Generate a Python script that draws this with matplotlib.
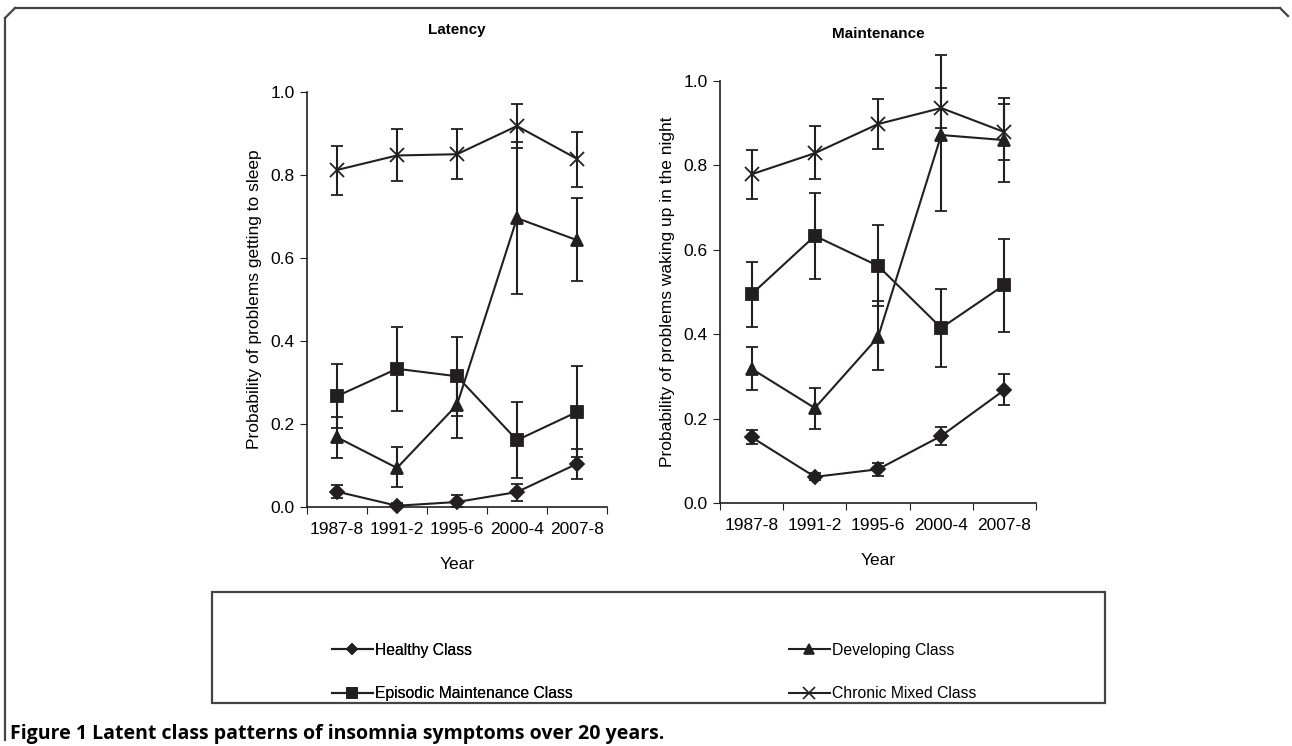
import numpy as np
import matplotlib.pyplot as plt
from matplotlib.lines import Line2D
from matplotlib.patches import Rectangle

plt.rcParams['font.family'] = ['Liberation Sans', 'DejaVu Sans']

years = ['1987-8', '1991-2', '1995-6', '2000-4', '2007-8']
classes = ['Healthy Class', 'Developing Class', 'Episodic Maintenance Class', 'Chronic Mixed Class']
markers = {'Healthy Class': 'D', 'Developing Class': '^',
           'Episodic Maintenance Class': 's', 'Chronic Mixed Class': 'x'}
msizes = {'Healthy Class': 7, 'Developing Class': 9,
          'Episodic Maintenance Class': 9, 'Chronic Mixed Class': 10}

# Latency: problems getting to sleep (mean, lower, upper)
lat_healthy = [0.037, 0.003, 0.012, 0.036, 0.104]
lat_healthy_lo = [0.022, 0.000, 0.000, 0.015, 0.067]
lat_healthy_hi = [0.053, 0.010, 0.029, 0.055, 0.140]
lat_dev = [0.168, 0.094, 0.246, 0.696, 0.643]
lat_dev_lo = [0.118, 0.048, 0.167, 0.513, 0.545]
lat_dev_hi = [0.218, 0.145, 0.325, 0.880, 0.745]
lat_epi = [0.267, 0.333, 0.315, 0.161, 0.229]
lat_epi_lo = [0.190, 0.231, 0.220, 0.070, 0.120]
lat_epi_hi = [0.345, 0.434, 0.410, 0.253, 0.340]
lat_chr = [0.812, 0.847, 0.850, 0.918, 0.839]
lat_chr_lo = [0.752, 0.785, 0.790, 0.866, 0.771]
lat_chr_hi = [0.870, 0.910, 0.910, 0.971, 0.904]

# Maintenance: problems waking up in the night
mai_healthy = [0.156, 0.062, 0.080, 0.159, 0.268]
mai_healthy_lo = [0.140, 0.055, 0.064, 0.137, 0.232]
mai_healthy_hi = [0.173, 0.070, 0.095, 0.180, 0.305]
mai_dev = [0.318, 0.225, 0.393, 0.872, 0.860]
mai_dev_lo = [0.268, 0.175, 0.315, 0.692, 0.761]
mai_dev_hi = [0.370, 0.273, 0.478, 1.061, 0.960]
mai_epi = [0.495, 0.633, 0.562, 0.415, 0.517]
mai_epi_lo = [0.417, 0.531, 0.466, 0.322, 0.405]
mai_epi_hi = [0.571, 0.735, 0.659, 0.507, 0.626]
mai_chr = [0.779, 0.829, 0.898, 0.936, 0.879]
mai_chr_lo = [0.720, 0.768, 0.839, 0.889, 0.813]
mai_chr_hi = [0.836, 0.893, 0.957, 0.983, 0.945]

latency = {
    'Healthy Class': (lat_healthy, lat_healthy_lo, lat_healthy_hi),
    'Developing Class': (lat_dev, lat_dev_lo, lat_dev_hi),
    'Episodic Maintenance Class': (lat_epi, lat_epi_lo, lat_epi_hi),
    'Chronic Mixed Class': (lat_chr, lat_chr_lo, lat_chr_hi),
}
maintenance = {
    'Healthy Class': (mai_healthy, mai_healthy_lo, mai_healthy_hi),
    'Developing Class': (mai_dev, mai_dev_lo, mai_dev_hi),
    'Episodic Maintenance Class': (mai_epi, mai_epi_lo, mai_epi_hi),
    'Chronic Mixed Class': (mai_chr, mai_chr_lo, mai_chr_hi),
}

fig = plt.figure(figsize=(12.92, 7.46), dpi=100)
ax1 = fig.add_axes([0.2376, 0.3204, 0.2322, 0.5563])
ax2 = fig.add_axes([0.5573, 0.3257, 0.2446, 0.5657])

col = '#231f20'
fs = 12.5


def draw_panel(ax, data, title, ylabel, tpad):
    x = np.arange(len(years))
    for c in classes:
        m, lo, hi = (np.array(v) for v in data[c])
        ax.errorbar(x, m, yerr=[m - lo, hi - m], color=col, lw=1.5,
                    marker=markers[c], ms=msizes[c], mew=1.3,
                    capsize=4, capthick=1.5, elinewidth=1.5, clip_on=False, zorder=3)
    ax.set_xlim(-0.5, len(years) - 0.5)
    ax.set_ylim(0, 1.0)
    ax.set_yticks(np.arange(0, 1.01, 0.2))
    ax.set_yticklabels(['%.1f' % v for v in np.arange(0, 1.01, 0.2)])
    ax.set_xticks(np.arange(-0.5, len(years), 1.0))
    ax.set_xticklabels([])
    ax.set_xticks(x, minor=True)
    ax.set_xticklabels(years, minor=True)
    ax.tick_params(axis='x', which='minor', length=0, pad=11, labelsize=fs)
    ax.tick_params(axis='x', which='major', length=5, direction='out', color=col)
    ax.tick_params(axis='y', length=5, direction='out', labelsize=fs, color=col, pad=4)
    for s in ['top', 'right']:
        ax.spines[s].set_visible(False)
    for s in ['left', 'bottom']:
        ax.spines[s].set_color(col)
        ax.spines[s].set_linewidth(1.2)
    ax.set_xlabel('Year', fontsize=fs, labelpad=14)
    ax.set_ylabel(ylabel, fontsize=fs, labelpad=6)
    ax.set_title(title, fontsize=11, fontweight='bold', pad=tpad)


draw_panel(ax1, latency, 'Latency', 'Probability of problems getting to sleep', 42)
draw_panel(ax2, maintenance, 'Maintenance', 'Probability of problems waking up in the night', 31)

# legend box
fig.patches.append(Rectangle((212 / 1292, 1 - 703 / 746), (1105 - 212) / 1292, (703 - 592) / 746,
                             transform=fig.transFigure, fill=False, ec='#444444', lw=1.6))


def handle(c):
    return Line2D([], [], color=col, lw=1.5, marker=markers[c], ms=msizes[c] - 2, mew=1.2)


leg_kw = dict(loc='upper left', frameon=False, fontsize=11.3, handlelength=2.6,
              handletextpad=0.15, labelspacing=1.8, borderpad=0)
leg_a = fig.legend([handle(classes[0]), handle(classes[2])], [classes[0], classes[2]],
                   bbox_to_anchor=(324 / 1292, 1 - 635 / 746), **leg_kw)
leg_b = fig.legend([handle(classes[1]), handle(classes[3])], [classes[1], classes[3]],
                   bbox_to_anchor=(781 / 1292, 1 - 635 / 746), **leg_kw)
fig.add_artist(leg_a)

# outer frame
fc = '#444444'
fig.add_artist(Line2D([15 / 1292, 1280 / 1292], [1 - 8 / 746, 1 - 8 / 746],
                      transform=fig.transFigure, color=fc, lw=1.6))
fig.add_artist(Line2D([5 / 1292, 5 / 1292], [1 - 740 / 746, 1 - 18 / 746],
                      transform=fig.transFigure, color=fc, lw=1.6))
fig.add_artist(Line2D([5 / 1292, 15 / 1292], [1 - 18 / 746, 1 - 8 / 746],
                      transform=fig.transFigure, color=fc, lw=1.6))
fig.add_artist(Line2D([1280 / 1292, 1288 / 1292], [1 - 8 / 746, 1 - 16 / 746],
                      transform=fig.transFigure, color=fc, lw=1.6))

fig.text(10 / 1292, 1 - 734 / 746, 'Figure 1 Latent class patterns of insomnia symptoms over 20 years.',
         fontsize=14, fontweight='bold', family=['Open Sans', 'DejaVu Sans'], va='center', ha='left')

fig.savefig('out.png', dpi=100)
